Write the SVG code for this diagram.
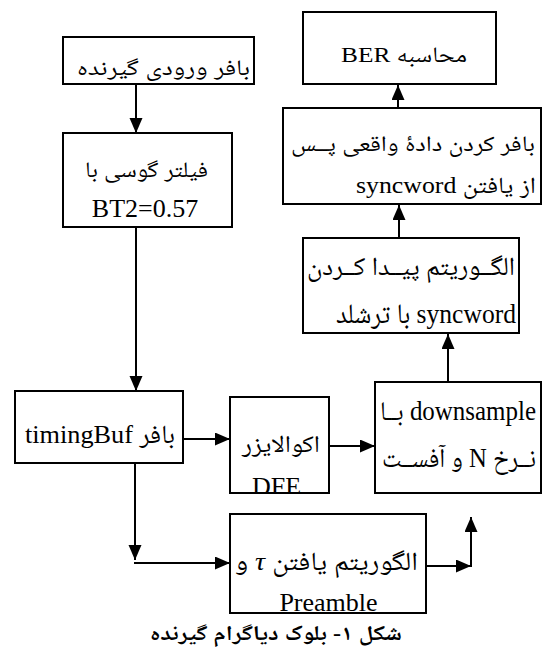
<svg xmlns="http://www.w3.org/2000/svg" width="543" height="649" viewBox="0 0 543 649">
<style>
.box{fill:#fff;stroke:#000;stroke-width:2}
.ln{fill:none;stroke:#000;stroke-width:2}
text{font-family:"Liberation Serif","Noto Naskh Arabic","DejaVu Sans",serif;fill:#000;direction:rtl;unicode-bidi:embed}
.m{text-anchor:middle}
.cap{font-weight:bold;font-size:21px}
</style>
<defs>
<marker id="ah" markerUnits="userSpaceOnUse" markerWidth="16" markerHeight="14" refX="15" refY="6.5" orient="auto">
<path d="M0,0 L15,6.5 L0,13 z" fill="#000"/>
</marker>
<clipPath id="clipDFE"><rect x="230" y="397" width="99" height="96"/></clipPath>
</defs>
<rect width="543" height="649" fill="#fff"/>

<g id="connectors">
<line class="ln" x1="136" y1="84" x2="136" y2="133" marker-end="url(#ah)"/>
<line class="ln" x1="136" y1="227" x2="136" y2="391" marker-end="url(#ah)"/>
<line class="ln" x1="183" y1="439" x2="230" y2="439" marker-end="url(#ah)"/>
<line class="ln" x1="329" y1="446" x2="375" y2="446" marker-end="url(#ah)"/>
<line class="ln" x1="448" y1="382" x2="448" y2="334" marker-end="url(#ah)"/>
<line class="ln" x1="399" y1="238" x2="399" y2="205" marker-end="url(#ah)"/>
<line class="ln" x1="398" y1="108" x2="398" y2="85" marker-end="url(#ah)"/>
<line class="ln" x1="135" y1="463" x2="135" y2="560" marker-end="url(#ah)"/>
<line class="ln" x1="134" y1="563" x2="230" y2="563" marker-end="url(#ah)"/>
<line class="ln" x1="426" y1="566" x2="471" y2="566" marker-end="url(#ah)"/>
<line class="ln" x1="471" y1="567" x2="471" y2="517" marker-end="url(#ah)"/>
</g>

<g id="n1">
<rect class="box" x="63" y="37" width="191" height="47"/>
<text x="163.5" y="75" class="m" font-size="22" textLength="173" lengthAdjust="spacingAndGlyphs">بافر ورودی گیرنده</text>
</g>

<g id="n2">
<rect class="box" x="63" y="133" width="169" height="94"/>
<text x="146.5" y="177" class="m" font-size="22" textLength="123" lengthAdjust="spacingAndGlyphs">فیلتر گوسی با</text>
<text x="145" y="217" class="m" font-size="26">BT2=0.57</text>
</g>

<g id="n3">
<rect class="box" x="15" y="391" width="168" height="72"/>
<text x="100" y="443" class="m" font-size="26" textLength="150" lengthAdjust="spacingAndGlyphs">بافر timingBuf</text>
</g>

<g id="n4">
<rect class="box" x="230" y="397" width="99" height="96"/>
<text x="281" y="452" class="m" font-size="24" textLength="78" lengthAdjust="spacingAndGlyphs">اکوالایزر</text>
<text x="276.5" y="495" class="m" font-size="26" clip-path="url(#clipDFE)">DFE</text>
</g>

<g id="n5">
<rect class="box" x="375" y="382" width="166" height="111"/>
<text x="458" y="420" class="m" font-size="27" textLength="156" lengthAdjust="spacingAndGlyphs">downsample بــا</text>
<text x="459" y="467" class="m" font-size="27" textLength="154" lengthAdjust="spacingAndGlyphs">نــرخ N و آفســت</text>
</g>

<g id="n6">
<rect class="box" x="303" y="238" width="216" height="95"/>
<text x="411" y="275" class="m" font-size="26" textLength="208" lengthAdjust="spacingAndGlyphs">الگــوریتم پیــدا کــردن</text>
<text x="426" y="323" class="m" font-size="28" textLength="180" lengthAdjust="spacingAndGlyphs">syncword با ترشلد</text>
</g>

<g id="n7">
<rect class="box" x="283" y="108" width="258" height="96"/>
<text x="413" y="151" class="m" font-size="22" textLength="244" lengthAdjust="spacingAndGlyphs">بافر کردن دادهٔ واقعی پــس</text>
<text x="446" y="193" class="m" font-size="23" textLength="180" lengthAdjust="spacingAndGlyphs">از یافتن syncword</text>
</g>

<g id="n8">
<rect class="box" x="303" y="12" width="193" height="72"/>
<text x="404" y="62" class="m" font-size="22" textLength="126" lengthAdjust="spacingAndGlyphs">محاسبه BER</text>
</g>

<g id="n9">
<rect class="box" x="230" y="514" width="196" height="99"/>
<text x="326.5" y="570" class="m" font-size="26" textLength="183" lengthAdjust="spacingAndGlyphs">الگوریتم یافتن <tspan font-style="italic">τ</tspan> و</text>
<text x="328.5" y="611" class="m" font-size="26">Preamble</text>
</g>

<g id="caption">
<text x="276" y="640" class="m cap" textLength="252" lengthAdjust="spacingAndGlyphs">شکل ۱- بلوک دیاگرام گیرنده</text>
</g>
</svg>
